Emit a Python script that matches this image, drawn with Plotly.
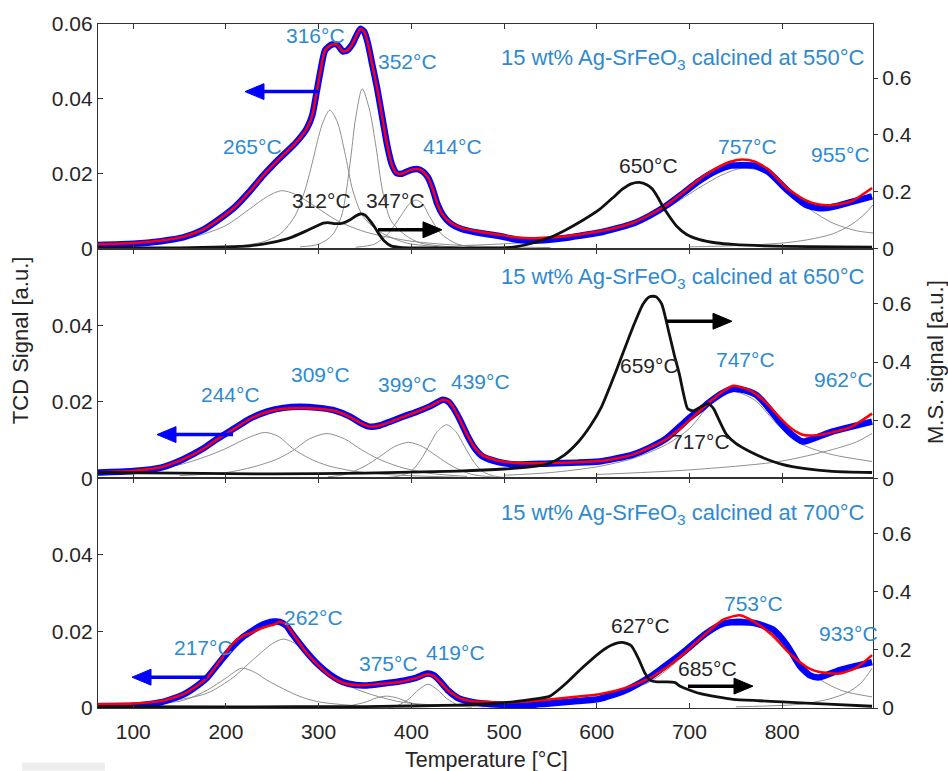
import plotly.graph_objects as go

# ---------------- DATA ----------------
# Panel 1: calcined at 550 °C
T1 = [62, 100, 130, 154, 175, 190, 210, 226, 240, 255, 265, 275, 287, 293, 298, 302, 307, 314, 320, 326,
      331, 336, 340, 345, 349, 353, 358, 363, 368, 374, 379, 384, 390, 396, 403, 408, 413, 418, 423, 428,
      434, 442, 455, 474, 495, 514, 530, 549, 570, 585, 605, 621, 640, 657, 675, 693, 710, 729, 745, 757,
      770, 785, 805, 825, 840, 855, 875, 897]
tcd1 = [0.0010, 0.0013, 0.0020, 0.0030, 0.0050, 0.0074, 0.0112, 0.0154, 0.0195, 0.0234, 0.0258, 0.0282, 0.0320, 0.0355, 0.0420, 0.0475, 0.0530, 0.0545, 0.0545, 0.0527,
        0.0530, 0.0545, 0.0565, 0.0587, 0.0580, 0.0550, 0.0490, 0.0430, 0.0360, 0.0276, 0.0225, 0.0202, 0.0200, 0.0207, 0.0212, 0.0212, 0.0205, 0.0190, 0.0160, 0.0120,
        0.0090, 0.0068, 0.0052, 0.0042, 0.0034, 0.0024, 0.0021, 0.0024, 0.0030, 0.0036, 0.0044, 0.0054, 0.0068, 0.0088, 0.0115, 0.0148, 0.0180, 0.0208, 0.0222, 0.0223,
        0.0222, 0.0205, 0.0157, 0.0118, 0.0108, 0.0112, 0.0125, 0.0140]
fit1 = [0.0012, 0.0015, 0.0022, 0.0032, 0.0051, 0.0074, 0.0112, 0.0154, 0.0195, 0.0234, 0.0258, 0.0282, 0.0320, 0.0355, 0.0420, 0.0475, 0.0530, 0.0545, 0.0545, 0.0527,
        0.0530, 0.0545, 0.0565, 0.0587, 0.0580, 0.0550, 0.0490, 0.0430, 0.0360, 0.0276, 0.0225, 0.0202, 0.0200, 0.0207, 0.0212, 0.0212, 0.0205, 0.0190, 0.0160, 0.0120,
        0.0090, 0.0070, 0.0055, 0.0045, 0.0037, 0.0030, 0.0028, 0.0030, 0.0034, 0.0039, 0.0047, 0.0056, 0.0070, 0.0090, 0.0116, 0.0150, 0.0184, 0.0215, 0.0233, 0.0238,
        0.0233, 0.0212, 0.0162, 0.0130, 0.0118, 0.0117, 0.0127, 0.0162]
Tms1 = [62, 150, 200, 226, 250, 269, 285, 298, 305, 310, 318, 326, 333, 340, 345, 350, 355, 360, 365, 370,
        378, 390, 420, 470, 500, 515, 531, 550, 567, 585, 603, 617, 628, 637, 646, 654, 660, 666, 671, 678,
        686, 697, 711, 730, 747, 780, 830, 897]
ms1 = [0.003, 0.003, 0.006, 0.010, 0.022, 0.038, 0.060, 0.080, 0.090, 0.092, 0.088, 0.090, 0.100, 0.115, 0.122, 0.118, 0.100, 0.078, 0.052, 0.030,
       0.010, 0.004, 0.003, 0.002, 0.003, 0.008, 0.020, 0.040, 0.067, 0.100, 0.138, 0.178, 0.210, 0.228, 0.233, 0.225, 0.210, 0.180, 0.150, 0.115,
       0.080, 0.050, 0.032, 0.020, 0.015, 0.010, 0.007, 0.005]
# fitted components, panel 1
g1a_T = [62, 120, 170, 200, 225, 245, 260, 275, 295, 320, 350, 400, 460, 550]
g1a_v = [0.0005, 0.0015, 0.0035, 0.0062, 0.0105, 0.0140, 0.0155, 0.0145, 0.0115, 0.0075, 0.0045, 0.0020, 0.0008, 0.0003]
g1b_T = [210, 240, 257, 265, 275, 285, 295, 300, 305, 312, 320, 328, 337, 347, 360, 372, 395, 430]
g1b_v = [0.0006, 0.0018, 0.0037, 0.0055, 0.0090, 0.0154, 0.0248, 0.0300, 0.0340, 0.0370, 0.0340, 0.0260, 0.0154, 0.0090, 0.0055, 0.0037, 0.0015, 0.0005]
g1c_T = [280, 300, 315, 325, 330, 335, 340, 347, 355, 362, 369, 378, 393, 410, 450]
g1c_v = [0.0005, 0.0012, 0.0037, 0.0090, 0.0156, 0.0250, 0.0350, 0.0427, 0.0370, 0.0270, 0.0154, 0.0075, 0.0037, 0.0015, 0.0004]
g1d_T = [340, 360, 375, 388, 398, 405, 412, 420, 432, 450, 480]
g1d_v = [0.0004, 0.0012, 0.0040, 0.0085, 0.0120, 0.0130, 0.0120, 0.0085, 0.0040, 0.0012, 0.0003]
g1e_T = [450, 500, 550, 600, 640, 680, 710, 735, 757, 780, 805, 830, 855, 880, 898]
g1e_v = [0.0008, 0.0013, 0.0022, 0.0040, 0.0068, 0.0115, 0.0162, 0.0197, 0.0215, 0.0205, 0.0155, 0.0105, 0.0068, 0.0048, 0.0042]
g1f_T = [700, 750, 800, 830, 855, 875, 890, 898]
g1f_v = [0.0005, 0.0008, 0.0015, 0.0025, 0.0040, 0.0065, 0.0095, 0.0117]

# Panel 2: calcined at 650 °C
T2 = [62, 100, 130, 154, 175, 190, 210, 226, 245, 262, 280, 300, 316, 334, 345, 355, 366, 377, 392, 406,
      420, 434, 440, 445, 452, 460, 468, 477, 495, 514, 549, 580, 603, 621, 639, 657, 675, 690, 700, 712,
      722, 735, 747, 760, 772, 785, 797, 810, 822, 835, 854, 875, 897]
tcd2 = [0.0015, 0.0019, 0.0028, 0.0050, 0.0077, 0.0102, 0.0132, 0.0156, 0.0175, 0.0184, 0.0187, 0.0184, 0.0178, 0.0161, 0.0145, 0.0135, 0.0138, 0.0148, 0.0162, 0.0174,
        0.0188, 0.0205, 0.0200, 0.0185, 0.0155, 0.0114, 0.0080, 0.0057, 0.0042, 0.0036, 0.0039, 0.0041, 0.0044, 0.0052, 0.0062, 0.0080, 0.0104, 0.0136, 0.0158, 0.0180,
        0.0200, 0.0222, 0.0234, 0.0230, 0.0218, 0.0185, 0.0148, 0.0115, 0.0096, 0.0105, 0.0122, 0.0135, 0.0148]
fit2 = [0.0016, 0.0020, 0.0029, 0.0050, 0.0076, 0.0101, 0.0131, 0.0155, 0.0174, 0.0182, 0.0184, 0.0182, 0.0177, 0.0160, 0.0145, 0.0135, 0.0138, 0.0147, 0.0161, 0.0174,
        0.0188, 0.0205, 0.0201, 0.0186, 0.0155, 0.0115, 0.0082, 0.0060, 0.0045, 0.0040, 0.0040, 0.0042, 0.0045, 0.0052, 0.0062, 0.0080, 0.0102, 0.0130, 0.0152, 0.0178,
        0.0200, 0.0225, 0.0242, 0.0235, 0.0220, 0.0192, 0.0160, 0.0130, 0.0114, 0.0112, 0.0120, 0.0135, 0.0169]
Tms2 = [62, 150, 250, 350, 450, 500, 530, 549, 565, 580, 593, 605, 621, 639, 650, 657, 664, 670, 678, 684, 689,
        694, 698, 704, 712, 720, 726, 732, 740, 750, 765, 780, 800, 825, 854, 897]
ms2 = [0.020, 0.018, 0.015, 0.018, 0.025, 0.032, 0.040, 0.052, 0.080, 0.125, 0.180, 0.245, 0.370, 0.520, 0.600, 0.625, 0.625, 0.600, 0.500, 0.420, 0.360,
       0.285, 0.240, 0.232, 0.245, 0.257, 0.240, 0.200, 0.150, 0.120, 0.092, 0.070, 0.048, 0.033, 0.024, 0.020]
g2a_T = [62, 118, 154, 182, 200, 215, 228, 242, 257, 272, 290, 310, 340, 380, 450]
g2a_v = [0.0008, 0.0020, 0.0038, 0.0060, 0.0078, 0.0096, 0.0110, 0.0120, 0.0109, 0.0078, 0.0052, 0.0033, 0.0018, 0.0009, 0.0003]
g2b_T = [150, 200, 230, 255, 272, 290, 309, 328, 346, 365, 390, 420, 460]
g2b_v = [0.0007, 0.0015, 0.0030, 0.0050, 0.0072, 0.0103, 0.0117, 0.0103, 0.0075, 0.0050, 0.0028, 0.0013, 0.0005]
g2c_T = [310, 330, 350, 366, 382, 397, 412, 428, 444, 464, 490]
g2c_v = [0.0004, 0.0011, 0.0032, 0.0057, 0.0083, 0.0094, 0.0083, 0.0057, 0.0032, 0.0011, 0.0003]
g2d_T = [370, 385, 400, 410, 419, 428, 438, 448, 457, 466, 476, 491, 510]
g2d_v = [0.0002, 0.0005, 0.0019, 0.0048, 0.0085, 0.0122, 0.0140, 0.0122, 0.0085, 0.0048, 0.0019, 0.0005, 0.0002]
g2e_T = [500, 550, 600, 639, 675, 700, 725, 747, 770, 797, 822, 854, 897]
g2e_v = [0.0008, 0.0015, 0.0030, 0.0052, 0.0088, 0.0130, 0.0200, 0.0226, 0.0205, 0.0135, 0.0088, 0.0062, 0.0044]
g2f_T = [600, 700, 797, 854, 880, 897]
g2f_v = [0.0010, 0.0022, 0.0044, 0.0075, 0.0095, 0.0117]

# Panel 3: calcined at 700 °C
T3 = [62, 100, 130, 154, 170, 180, 195, 208, 218, 226, 235, 244, 252, 258, 265, 272, 285, 298, 312, 326,
      340, 352, 370, 388, 405, 417, 424, 431, 440, 452, 465, 477, 500, 520, 549, 580, 603, 630, 657, 675,
      693, 718, 736, 745, 754, 770, 790, 805, 819, 830, 840, 862, 880, 897]
tcd3 = [0.0005, 0.0006, 0.0015, 0.0035, 0.0060, 0.0080, 0.0125, 0.0162, 0.0185, 0.0198, 0.0212, 0.0222, 0.0226, 0.0225, 0.0215, 0.0192, 0.0152, 0.0117, 0.0088, 0.0068,
        0.0060, 0.0059, 0.0064, 0.0070, 0.0079, 0.0090, 0.0086, 0.0070, 0.0045, 0.0024, 0.0016, 0.0012, 0.0008, 0.0006, 0.0012, 0.0018, 0.0024, 0.0045, 0.0080, 0.0112,
        0.0145, 0.0195, 0.0220, 0.0224, 0.0224, 0.0222, 0.0205, 0.0165, 0.0110, 0.0085, 0.0080, 0.0099, 0.0110, 0.0120]
fit3 = [0.0010, 0.0012, 0.0018, 0.0036, 0.0060, 0.0080, 0.0128, 0.0170, 0.0188, 0.0195, 0.0205, 0.0213, 0.0218, 0.0225, 0.0218, 0.0195, 0.0150, 0.0115, 0.0085, 0.0066,
        0.0060, 0.0060, 0.0064, 0.0068, 0.0078, 0.0088, 0.0084, 0.0068, 0.0045, 0.0026, 0.0018, 0.0016, 0.0014, 0.0016, 0.0022, 0.0030, 0.0036, 0.0052, 0.0078, 0.0105,
        0.0140, 0.0195, 0.0230, 0.0238, 0.0242, 0.0225, 0.0190, 0.0150, 0.0120, 0.0102, 0.0094, 0.0090, 0.0105, 0.0138]
Tms3 = [62, 200, 350, 450, 500, 530, 549, 567, 585, 603, 615, 627, 637, 645, 652, 658, 665, 675, 684, 690,
        700, 711, 730, 747, 775, 800, 850, 897]
ms3 = [0.005, 0.004, 0.005, 0.010, 0.018, 0.030, 0.040, 0.085, 0.140, 0.190, 0.215, 0.226, 0.215, 0.170, 0.120, 0.095, 0.090, 0.090, 0.088, 0.075,
       0.062, 0.050, 0.038, 0.030, 0.025, 0.021, 0.013, 0.006]
g3a_T = [62, 120, 154, 180, 200, 217, 232, 244, 262, 280, 300, 340]
g3a_v = [0.0003, 0.0010, 0.0020, 0.0047, 0.0078, 0.0104, 0.0092, 0.0073, 0.0050, 0.0030, 0.0016, 0.0006]
g3b_T = [100, 150, 180, 208, 230, 250, 262, 278, 298, 326, 352, 388, 430, 480]
g3b_v = [0.0008, 0.0022, 0.0039, 0.0080, 0.0128, 0.0168, 0.0180, 0.0163, 0.0107, 0.0065, 0.0039, 0.0016, 0.0007, 0.0003]
g3c_T = [330, 350, 362, 373, 385, 397, 415]
g3c_v = [0.0004, 0.0015, 0.0026, 0.0031, 0.0026, 0.0015, 0.0004]
g3d_T = [375, 385, 398, 408, 418, 428, 438, 452, 465]
g3d_v = [0.0002, 0.0006, 0.0025, 0.0048, 0.0062, 0.0048, 0.0025, 0.0006, 0.0002]
g3e_T = [500, 550, 600, 657, 693, 718, 736, 754, 775, 800, 820, 840, 865, 897]
g3e_v = [0.0006, 0.0012, 0.0028, 0.0068, 0.0135, 0.0190, 0.0222, 0.0234, 0.0215, 0.0160, 0.0110, 0.0075, 0.0045, 0.0029]
g3f_T = [750, 780, 820, 850, 870, 885, 897]
g3f_v = [0.0003, 0.0005, 0.0010, 0.0023, 0.0040, 0.0065, 0.0104]

x_ticks = [100, 200, 300, 400, 500, 600, 700, 800]
calcination = ["550", "650", "700"]

# ---------------- STYLE ----------------
FONT = "Liberation Sans, Arial, sans-serif"
BLUE_TXT = "#2e8ad0"
DARK = "#262626"
GREY = "#8f8f8f"
FS = 21
FS_T = 22

panels = [
    dict(T=T1, tcd=tcd1, fit=fit1, Tms=Tms1, ms=ms1,
         comps=[(g1a_T, g1a_v), (g1b_T, g1b_v), (g1c_T, g1c_v), (g1d_T, g1d_v), (g1e_T, g1e_v), (g1f_T, g1f_v)]),
    dict(T=T2, tcd=tcd2, fit=fit2, Tms=Tms2, ms=ms2,
         comps=[(g2a_T, g2a_v), (g2b_T, g2b_v), (g2c_T, g2c_v), (g2d_T, g2d_v), (g2e_T, g2e_v), (g2f_T, g2f_v)]),
    dict(T=T3, tcd=tcd3, fit=fit3, Tms=Tms3, ms=ms3,
         comps=[(g3a_T, g3a_v), (g3b_T, g3b_v), (g3c_T, g3c_v), (g3d_T, g3d_v), (g3e_T, g3e_v), (g3f_T, g3f_v)]),
]

fig = go.Figure()
domains = [[0.6715, 1.0], [0.3358, 0.6715], [0.0, 0.3358]]

for i, p in enumerate(panels):
    xa = "x" if i == 0 else f"x{i+1}"
    yl = "y" if i == 0 else f"y{2*i+1}"
    yr = f"y{2*i+2}"
    for (ct, cv) in p["comps"]:
        fig.add_trace(go.Scatter(x=ct, y=cv, xaxis=xa, yaxis=yl, mode="lines",
                                 line=dict(color=GREY, width=1, shape="spline", smoothing=0.8),
                                 hoverinfo="skip", showlegend=False))
    fig.add_trace(go.Scatter(x=p["T"], y=p["tcd"], xaxis=xa, yaxis=yl, mode="lines",
                             line=dict(color="#0000ff", width=6.5, shape="spline", smoothing=0.6),
                             showlegend=False))
    fig.add_trace(go.Scatter(x=p["T"], y=p["fit"], xaxis=xa, yaxis=yl, mode="lines",
                             line=dict(color="#ff0000", width=2.5, shape="spline", smoothing=0.6),
                             showlegend=False))
    fig.add_trace(go.Scatter(x=p["Tms"], y=p["ms"], xaxis=xa, yaxis=yr, mode="lines",
                             line=dict(color="#111111", width=2.8, shape="spline", smoothing=0.6),
                             showlegend=False))

axis_common = dict(showgrid=False, zeroline=False, showline=True, linecolor="#333333", linewidth=1.2,
                   tickcolor="#333333", tickfont=dict(family=FONT, size=FS, color=DARK))
layout = dict(
    width=948, height=771,
    margin=dict(l=98, r=75, t=20, b=63),
    paper_bgcolor="white", plot_bgcolor="white",
    font=dict(family=FONT, size=FS, color=DARK),
    showlegend=False,
)
for i in range(3):
    xkey = "xaxis" if i == 0 else f"xaxis{i+1}"
    ylkey = "yaxis" if i == 0 else f"yaxis{2*i+1}"
    yrkey = f"yaxis{2*i+2}"
    yl = "y" if i == 0 else f"y{2*i+1}"
    xa = "x" if i == 0 else f"x{i+1}"
    layout[xkey] = dict(axis_common, range=[62, 898], tickvals=x_ticks, ticks="inside", ticklen=5,
                        mirror="ticks", anchor=yl, domain=[0, 1],
                        showticklabels=(i == 2), ticklabelstandoff=5,
                        **({} if i == 0 else dict(matches="x")))
    left_vals = [0, 0.02, 0.04, 0.06] if i == 0 else [0, 0.02, 0.04]
    layout[ylkey] = dict(axis_common, range=[0, 0.06], domain=domains[i], anchor=xa,
                         tickvals=left_vals,
                         ticktext=["0" if v == 0 else f"{v:.2f}" for v in left_vals],
                         ticks="inside", ticklen=5, mirror=True)
    layout[yrkey] = dict(axis_common, range=[0, 0.79], overlaying=yl, side="right", anchor=xa,
                         tickvals=[0, 0.2, 0.4, 0.6], ticktext=["0", "0.2", "0.4", "0.6"],
                         ticks="outside", ticklen=4)
fig.update_layout(**layout)

# ---------------- ANNOTATIONS ----------------
def P(px, py):
    return (px - 98) / 775.0, (708 - py) / 688.0

labels = [
    ("316°C", 315, 32, BLUE_TXT), ("352°C", 407, 58, BLUE_TXT), ("265°C", 252, 143, BLUE_TXT),
    ("414°C", 452, 143, BLUE_TXT), ("312°C", 321, 198, DARK), ("347°C", 395, 198, DARK),
    ("650°C", 648, 162, DARK), ("757°C", 747, 143, BLUE_TXT), ("955°C", 840, 151, BLUE_TXT),
    ("244°C", 230, 393, BLUE_TXT), ("309°C", 320, 373, BLUE_TXT), ("399°C", 407, 383, BLUE_TXT),
    ("439°C", 480, 380, BLUE_TXT), ("659°C", 649, 363, DARK), ("747°C", 745, 357, BLUE_TXT),
    ("962°C", 843, 378, BLUE_TXT), ("717°C", 700, 440, DARK),
    ("217°C", 203, 647, BLUE_TXT), ("262°C", 313, 617, BLUE_TXT), ("375°C", 388, 663, BLUE_TXT),
    ("419°C", 455, 652, BLUE_TXT), ("627°C", 640, 625, DARK), ("685°C", 707, 668, DARK),
    ("753°C", 753, 603, BLUE_TXT), ("933°C", 848, 633, BLUE_TXT),
]
ann = []
for text, px, py, col in labels:
    x, y = P(px, py)
    ann.append(dict(text=text, x=x, y=y, xref="paper", yref="paper", showarrow=False,
                    xanchor="center", yanchor="middle", font=dict(family=FONT, size=FS, color=col)))

for c, py in zip(calcination, [55, 275, 513]):
    x, y = P(867, py)
    ann.append(dict(text=f"15 wt% Ag-SrFeO<sub>3</sub> calcined at {c}°C", x=x, y=y,
                    xref="paper", yref="paper", showarrow=False, xanchor="right", yanchor="middle",
                    font=dict(family=FONT, size=FS_T, color=BLUE_TXT)))

x, y = P(20, 338)
ann.append(dict(text="TCD Signal [a.u.]", x=x, y=y, xref="paper", yref="paper", showarrow=False,
                textangle=-90, xanchor="center", yanchor="middle", font=dict(family=FONT, size=FS_T, color=DARK)))
x, y = P(935, 360)
ann.append(dict(text="M.S. signal [a.u.]", x=x, y=y, xref="paper", yref="paper", showarrow=False,
                textangle=-90, xanchor="center", yanchor="middle", font=dict(family=FONT, size=FS_T, color=DARK)))
x, y = P(486, 760)
ann.append(dict(text="Temperature [°C]", x=x, y=y, xref="paper", yref="paper", showarrow=False,
                xanchor="center", yanchor="middle", font=dict(family=FONT, size=FS_T - 0.5, color=DARK)))

fig.update_layout(annotations=ann)

# arrows drawn as shapes (shaft + filled head), positioned in page pixels
arrows = [((245, 88), (318, 88), "#0000ff"), ((442, 227), (378, 227), "#000000"),
          ((157, 433), (233, 433), "#0000ff"), ((732, 319), (667, 319), "#000000"),
          ((132, 677), (207, 677), "#0000ff"), ((753, 686), (688, 686), "#000000")]
HEAD_L, HEAD_W = 19, 8
for (tip, tail, col) in arrows:
    d = 1 if tail[0] > tip[0] else -1
    base_x = tip[0] + d * HEAD_L
    x0, y0 = P(tail[0], tail[1])
    x1, y1 = P(base_x + d * -2, tip[1])
    fig.add_shape(type="line", xref="paper", yref="paper", x0=x0, y0=y0, x1=x1, y1=y1,
                  line=dict(color=col, width=3.5))
    a = P(*tip)
    b = P(base_x, tip[1] - HEAD_W)
    c = P(base_x, tip[1] + HEAD_W)
    fig.add_shape(type="path", xref="paper", yref="paper",
                  path=f"M {a[0]},{a[1]} L {b[0]},{b[1]} L {c[0]},{c[1]} Z",
                  fillcolor=col, line=dict(color=col, width=1))

fig.add_shape(type="rect", xref="paper", yref="paper",
              x0=(22 - 98) / 775, x1=(105 - 98) / 775, y0=(708 - 771) / 688, y1=(708 - 763) / 688,
              fillcolor="#eeeeee", line=dict(width=0), layer="below")

fig.write_html("out.html")
